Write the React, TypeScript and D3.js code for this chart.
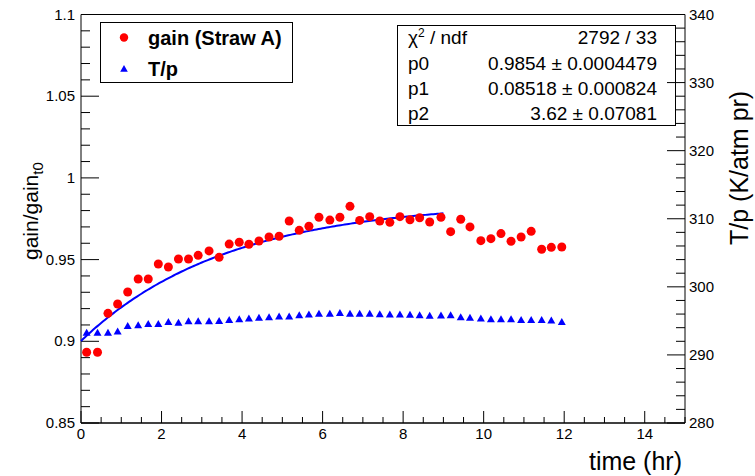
import React from "react";
import * as d3 from "d3";

const times = [0.14,0.41,0.67,0.91,1.16,1.42,1.67,1.92,2.17,2.42,2.67,2.91,3.18,3.43,3.68,3.93,4.17,4.42,4.67,4.92,5.17,5.42,5.66,5.91,6.18,6.43,6.68,6.92,7.17,7.42,7.67,7.92,8.17,8.41,8.66,8.94,9.18,9.43,9.66,9.93,10.18,10.43,10.68,10.93,11.18,11.44,11.68,11.94];
const gain = [0.8933,0.8933,0.9171,0.9228,0.9302,0.9381,0.9381,0.9473,0.9455,0.9504,0.9504,0.9526,0.9553,0.9514,0.9595,0.9606,0.9594,0.9614,0.9638,0.9643,0.9736,0.9679,0.9704,0.9759,0.9742,0.9759,0.9826,0.9740,0.9763,0.9736,0.9728,0.9763,0.9744,0.9756,0.9730,0.9759,0.9671,0.9747,0.9700,0.9616,0.9628,0.9659,0.9612,0.9638,0.9673,0.9563,0.9575,0.9577];
const tp = [293.3,293.3,293.3,293.5,294.3,294.4,294.6,294.6,294.9,294.8,295.0,295.0,295.0,295.05,295.2,295.3,295.4,295.5,295.6,295.7,295.7,295.9,296.0,296.1,296.1,296.2,296.1,296.1,296.1,296.05,296.0,296.0,295.95,295.9,295.8,295.85,295.9,295.6,295.5,295.4,295.3,295.3,295.3,295.2,295.2,295.2,295.1,294.9];

const fitParams = [0.9854, 0.08518, 3.62];
const fitRange = [0, 9];
const statLabels = ["p0", "p1", "p2"];
const statValues = ["0.9854 \u00b1 0.0004479", "0.08518 \u00b1 0.000824", "3.62 \u00b1 0.07081"];
const chiText = "2792 / 33";
const xTicks = [0, 2, 4, 6, 8, 10, 12, 14];
const yLTicks = [0.85, 0.9, 0.95, 1, 1.05, 1.1];
const yRTicks = [280, 290, 300, 310, 320, 330, 340];

const FONT = "'Liberation Sans', Arial, Helvetica, sans-serif";

export default function App() {
  const x = d3.scaleLinear().domain([0, 15]).range([81, 685]);
  const yL = d3.scaleLinear().domain([0.85, 1.1]).range([423, 14.5]);
  const yR = d3.scaleLinear().domain([280, 340]).range([423, 14.5]);

  const xMinor = d3.range(0, 15.001, 0.5).filter((v) => Math.abs(v % 2) > 1e-6);
  const yLMinor = d3.range(0.85, 1.1001, 0.01).filter((v) => !yLTicks.some((t) => Math.abs(t - v) < 1e-6));
  const yRMinor = d3.range(280, 340.001, 2).filter((v) => v % 10 !== 0);

  const fitFn = (t: number) => fitParams[0] - fitParams[1] * Math.exp(-t / fitParams[2]);
  const fitPts = d3.range(fitRange[0], fitRange[1] + 0.0001, 0.05).map((t) => [t, fitFn(t)] as [number, number]);
  const line = d3.line<[number, number]>().x((d) => x(d[0])).y((d) => yL(d[1]));

  const tri = (cx: number, cy: number, s = 4) =>
    `M${cx},${cy - s * 0.9} L${cx + s},${cy + s * 0.85} L${cx - s},${cy + s * 0.85} Z`;

  const [x0, x1] = x.range();
  const [yb, yt] = yL.range();

  return (
    <svg width={755} height={476} style={{ position: "absolute", left: 0, top: 0, background: "#fff" }} fontFamily={FONT}>
      <rect x={0} y={0} width={755} height={476} fill="#fff" />
      {/* frame */}
      <line x1={x0} x2={x1} y1={yt} y2={yt} stroke="#000" strokeWidth={1} />
      <line x1={x0} x2={x1} y1={yb} y2={yb} stroke="#000" strokeWidth={1.5} />
      <line x1={x0} x2={x0} y1={yt} y2={yb} stroke="#000" strokeWidth={1} />

      {/* x ticks */}
      {xTicks.map((t) => (
        <g key={"xt" + t}>
          <line x1={x(t)} x2={x(t)} y1={yb} y2={yb - 12} stroke="#000" />
          <text x={x(t)} y={439} fontSize={15} textAnchor="middle">{t}</text>
        </g>
      ))}
      {xMinor.map((t) => (
        <line key={"xm" + t} x1={x(t)} x2={x(t)} y1={yb} y2={yb - 6} stroke="#000" />
      ))}

      {/* left y ticks */}
      {yLTicks.map((t) => (
        <g key={"yl" + t}>
          <line x1={x0} x2={x0 + 18} y1={yL(t)} y2={yL(t)} stroke="#000" />
          <text x={75} y={yL(t) + 5} fontSize={15} textAnchor="end">{String(t)}</text>
        </g>
      ))}
      {yLMinor.map((t, i) => (
        <line key={"ylm" + i} x1={x0} x2={x0 + 9} y1={yL(t)} y2={yL(t)} stroke="#000" />
      ))}

      {/* axis titles */}
      <text x={682} y={470} fontSize={25} textAnchor="end">time (hr)</text>
      <text transform="translate(38,260) rotate(-90)" fontSize={21} textAnchor="start">
        gain/gain<tspan fontSize={15} dy={5}>t0</tspan>
      </text>
      <text transform="translate(748,245) rotate(-90)" fontSize={25} textAnchor="start">T/p (K/atm pr)</text>

      {/* fit */}
      <path d={line(fitPts) || ""} fill="none" stroke="#0000ff" strokeWidth={2} />

      {/* T/p triangles */}
      {times.map((t, i) => (
        <path key={"tr" + i} d={tri(x(t), yR(tp[i]))} fill="#0000ff" />
      ))}
      {/* gain circles */}
      {times.map((t, i) => (
        <circle key={"c" + i} cx={x(t)} cy={yL(gain[i])} r={4.5} fill="#ff0000" />
      ))}

      {/* legend */}
      <rect x={100.5} y={22.5} width={192} height={60} fill="#fff" stroke="#000" strokeWidth={1} />
      <circle cx={124} cy={37.5} r={4.2} fill="#ff0000" />
      <text x={148} y={45} fontSize={20} fontWeight="bold">gain (Straw A)</text>
      <path d={tri(124, 68.5, 3.8)} fill="#0000ff" />
      <text x={148} y={76} fontSize={20} fontWeight="bold">T/p</text>

      {/* stats box */}
      <rect x={397.5} y={25.5} width={278} height={100} fill="#fff" stroke="#000" strokeWidth={1} />
      <text x={408} y={44} fontSize={19}>
        χ<tspan fontSize={12} dy={-7}>2</tspan><tspan dy={7}> / ndf</tspan>
      </text>
      <text x={657} y={44} fontSize={19} textAnchor="end">{chiText}</text>
      {statLabels.map((l, i) => (
        <g key={l}>
          <text x={408} y={70 + 25 * i} fontSize={19}>{l}</text>
          <text x={657} y={70 + 25 * i} fontSize={19} textAnchor="end">{statValues[i]}</text>
        </g>
      ))}

      {/* right axis (drawn on top) */}
      <line x1={x1} x2={x1} y1={yt} y2={yb} stroke="#000" strokeWidth={1} />
      {yRTicks.map((t) => (
        <g key={"yr" + t}>
          <line x1={x1} x2={x1 - 18} y1={yR(t)} y2={yR(t)} stroke="#000" />
          <text x={689} y={yR(t) + 5} fontSize={15} textAnchor="start">{t}</text>
        </g>
      ))}
      {yRMinor.map((t) => (
        <line key={"yrm" + t} x1={x1} x2={x1 - 9} y1={yR(t)} y2={yR(t)} stroke="#000" />
      ))}
    </svg>
  );
}
